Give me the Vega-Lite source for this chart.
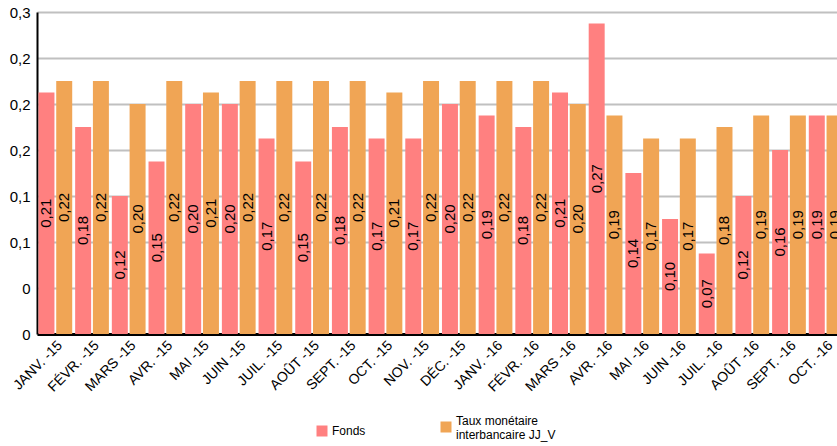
{
  "$schema": "https://vega.github.io/schema/vega-lite/v6.json",
  "width": 807,
  "height": 322,
  "autosize": {"type": "none"},
  "padding": {"left": 37, "top": 12, "right": 0, "bottom": 112},
  "config": {
    "locale": {"number": {"decimal": ",", "thousands": " ", "grouping": [3], "currency": ["", " €"]}},
    "font": "Liberation Sans",
    "view": {"stroke": null}
  },
  "data": {
    "values": [
      {"mois": "JANV. -15", "serie": "Fonds", "v": 0.21},
      {"mois": "FÉVR. -15", "serie": "Fonds", "v": 0.18},
      {"mois": "MARS -15", "serie": "Fonds", "v": 0.12},
      {"mois": "AVR. -15", "serie": "Fonds", "v": 0.15},
      {"mois": "MAI -15", "serie": "Fonds", "v": 0.20},
      {"mois": "JUIN -15", "serie": "Fonds", "v": 0.20},
      {"mois": "JUIL. -15", "serie": "Fonds", "v": 0.17},
      {"mois": "AOÛT -15", "serie": "Fonds", "v": 0.15},
      {"mois": "SEPT. -15", "serie": "Fonds", "v": 0.18},
      {"mois": "OCT. -15", "serie": "Fonds", "v": 0.17},
      {"mois": "NOV. -15", "serie": "Fonds", "v": 0.17},
      {"mois": "DÉC. -15", "serie": "Fonds", "v": 0.20},
      {"mois": "JANV. -16", "serie": "Fonds", "v": 0.19},
      {"mois": "FÉVR. -16", "serie": "Fonds", "v": 0.18},
      {"mois": "MARS -16", "serie": "Fonds", "v": 0.21},
      {"mois": "AVR. -16", "serie": "Fonds", "v": 0.27},
      {"mois": "MAI -16", "serie": "Fonds", "v": 0.14},
      {"mois": "JUIN -16", "serie": "Fonds", "v": 0.10},
      {"mois": "JUIL. -16", "serie": "Fonds", "v": 0.07},
      {"mois": "AOÛT -16", "serie": "Fonds", "v": 0.12},
      {"mois": "SEPT. -16", "serie": "Fonds", "v": 0.16},
      {"mois": "OCT. -16", "serie": "Fonds", "v": 0.19},
      {"mois": "JANV. -15", "serie": "Taux monétaire interbancaire JJ_V", "v": 0.22},
      {"mois": "FÉVR. -15", "serie": "Taux monétaire interbancaire JJ_V", "v": 0.22},
      {"mois": "MARS -15", "serie": "Taux monétaire interbancaire JJ_V", "v": 0.20},
      {"mois": "AVR. -15", "serie": "Taux monétaire interbancaire JJ_V", "v": 0.22},
      {"mois": "MAI -15", "serie": "Taux monétaire interbancaire JJ_V", "v": 0.21},
      {"mois": "JUIN -15", "serie": "Taux monétaire interbancaire JJ_V", "v": 0.22},
      {"mois": "JUIL. -15", "serie": "Taux monétaire interbancaire JJ_V", "v": 0.22},
      {"mois": "AOÛT -15", "serie": "Taux monétaire interbancaire JJ_V", "v": 0.22},
      {"mois": "SEPT. -15", "serie": "Taux monétaire interbancaire JJ_V", "v": 0.22},
      {"mois": "OCT. -15", "serie": "Taux monétaire interbancaire JJ_V", "v": 0.21},
      {"mois": "NOV. -15", "serie": "Taux monétaire interbancaire JJ_V", "v": 0.22},
      {"mois": "DÉC. -15", "serie": "Taux monétaire interbancaire JJ_V", "v": 0.22},
      {"mois": "JANV. -16", "serie": "Taux monétaire interbancaire JJ_V", "v": 0.22},
      {"mois": "FÉVR. -16", "serie": "Taux monétaire interbancaire JJ_V", "v": 0.22},
      {"mois": "MARS -16", "serie": "Taux monétaire interbancaire JJ_V", "v": 0.20},
      {"mois": "AVR. -16", "serie": "Taux monétaire interbancaire JJ_V", "v": 0.19},
      {"mois": "MAI -16", "serie": "Taux monétaire interbancaire JJ_V", "v": 0.17},
      {"mois": "JUIN -16", "serie": "Taux monétaire interbancaire JJ_V", "v": 0.17},
      {"mois": "JUIL. -16", "serie": "Taux monétaire interbancaire JJ_V", "v": 0.18},
      {"mois": "AOÛT -16", "serie": "Taux monétaire interbancaire JJ_V", "v": 0.19},
      {"mois": "SEPT. -16", "serie": "Taux monétaire interbancaire JJ_V", "v": 0.19},
      {"mois": "OCT. -16", "serie": "Taux monétaire interbancaire JJ_V", "v": 0.19}
    ]
  },
  "encoding": {
    "x": {
      "field": "mois", "type": "nominal", "sort": null, "title": null,
      "scale": {"paddingInner": 0.08, "paddingOuter": 0.04},
      "axis": {"labelAngle": -45, "labelFontSize": 14, "labelColor": "#000", "ticks": false, "domainColor": "#000", "domainWidth": 3, "labelPadding": 4, "labelOverlap": false, "labelBound": false}
    },
    "xOffset": {"field": "serie", "type": "nominal", "scale": {"paddingInner": 0.1}}
  },
  "layer": [
    {
      "mark": {"type": "bar"},
      "encoding": {
        "y": {
          "field": "v", "type": "quantitative", "title": null,
          "scale": {"domain": [0, 0.28], "nice": false},
          "axis": {"values": [0, 0.04, 0.08, 0.12, 0.16, 0.2, 0.24, 0.28], "format": ".1~f", "labelFontSize": 15, "labelColor": "#000", "ticks": false, "domainColor": "#000", "domainWidth": 2, "gridColor": "#c0c0c0", "gridWidth": 2, "labelPadding": 7}
        },
        "color": {
          "field": "serie", "type": "nominal", "title": null,
          "scale": {"domain": ["Fonds", "Taux monétaire interbancaire JJ_V"], "range": ["#ff8080", "#f0a555"]},
          "legend": {
            "orient": "none", "direction": "horizontal", "legendX": 279, "legendY": 409,
            "symbolType": "square", "symbolSize": 121, "symbolStrokeWidth": 0, "symbolOpacity": 1,
            "labelFontSize": 12, "labelColor": "#000", "labelLimit": 300, "columnPadding": 74,
            "labelExpr": "datum.label == 'Fonds' ? 'Fonds' : ['Taux monétaire', 'interbancaire JJ_V']",
            "encode": {"labels": {"update": {"dy": {"signal": "datum.label == 'Fonds' ? 0 : -6"}}}}
          }
        }
      }
    },
    {
      "transform": [{"calculate": "datum.v / 2", "as": "mid"}],
      "mark": {"type": "text", "angle": 270, "align": "center", "baseline": "middle", "fontSize": 15, "color": "#000"},
      "encoding": {
        "y": {"field": "mid", "type": "quantitative"},
        "text": {"field": "v", "type": "quantitative", "format": ".2f"}
      }
    }
  ]
}
